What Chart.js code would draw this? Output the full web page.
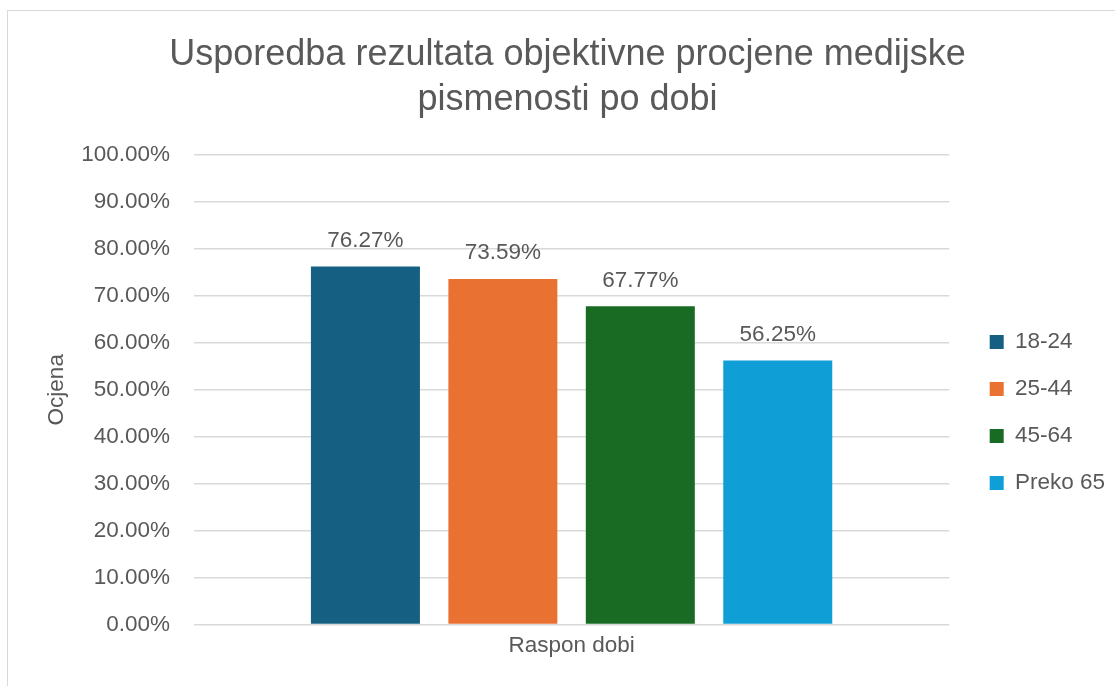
<!DOCTYPE html>
<html>
<head>
<meta charset="utf-8">
<script src="https://cdn.jsdelivr.net/npm/chart.js@4.4.1/dist/chart.umd.min.js"></script>
<style>
  html, body { margin: 0; padding: 0; background: #fff; overflow: hidden; }
  #frame { position: absolute; left: 7px; top: 10px; width: 1120px; height: 690px; border: 1px solid #d9d9d9; }
  #wrap { position: absolute; left: 0; top: 0; width: 1115px; height: 686px; }
</style>
</head>
<body>
<div id="frame"></div>
<div id="wrap"><canvas id="chart" width="1115" height="686"></canvas></div>
<script>
const categories = ["Raspon dobi"];
const ageGroups = ["18-24", "25-44", "45-64", "Preko 65"];
const scores = [76.27, 73.59, 67.77, 56.25];
const barColors = ["#156082", "#E97132", "#196B24", "#0F9ED5"];
const titleLines = ["Usporedba rezultata objektivne procjene medijske", "pismenosti po dobi"];

const textColor = "#595959";
const fontFamily = "'Liberation Sans', Arial, sans-serif";
const labelSize = 22.5;

// value labels above each bar
const barValues = {
    id: "barValues",
    afterDatasetsDraw(chart) {
        const { ctx } = chart;
        ctx.save();
        ctx.fillStyle = textColor;
        ctx.font = `${labelSize}px ${fontFamily}`;
        ctx.textAlign = "center";
        ctx.textBaseline = "alphabetic";
        chart.data.datasets.forEach((dataset, i) => {
            chart.getDatasetMeta(i).data.forEach((bar, j) => {
                ctx.fillText(dataset.data[j].toFixed(2) + "%", bar.x, bar.y - 19.5);
            });
        });
        ctx.restore();
    }
};

new Chart(document.getElementById("chart"), {
    type: "bar",
    data: {
        labels: categories,
        datasets: ageGroups.map((name, i) => ({
            label: name,
            data: [scores[i]],
            backgroundColor: barColors[i],
            borderWidth: 0,
            categoryPercentage: 0.728,
            barPercentage: 0.793
        }))
    },
    options: {
        responsive: false,
        animation: false,
        layout: { padding: { left: 20, right: 0, top: 0, bottom: 19.5 } },
        plugins: {
            title: {
                display: true,
                text: titleLines,
                color: textColor,
                font: { family: fontFamily, size: 36, weight: "normal", lineHeight: 1.25 },
                padding: { top: 32.5, bottom: 32.5 }
            },
            legend: {
                position: "right",
                align: "start",
                maxWidth: 150,
                title: { display: true, text: " ", font: { size: 10 }, padding: 147.125 },
                labels: {
                    color: textColor,
                    font: { family: fontFamily, size: labelSize },
                    boxWidth: 14,
                    boxHeight: 14,
                    padding: 24.5
                }
            },
            tooltip: { enabled: false }
        },
        scales: {
            x: {
                grid: { display: false, drawTicks: false },
                border: { display: false },
                ticks: { color: textColor, font: { family: fontFamily, size: labelSize }, padding: 7.5 }
            },
            y: {
                min: 0,
                max: 100,
                ticks: {
                    stepSize: 10,
                    color: textColor,
                    font: { family: fontFamily, size: labelSize },
                    padding: 24,
                    callback: v => v.toFixed(2) + "%"
                },
                grid: { color: "#d9d9d9", lineWidth: 1.5, drawTicks: false },
                border: { display: false },
                title: {
                    display: true,
                    text: "Ocjena",
                    color: textColor,
                    font: { family: fontFamily, size: labelSize },
                    padding: { top: 23.5, bottom: 4 }
                },
                afterFit: scale => { scale.width = 174; }
            },
            // empty gap between the plot and the legend
            gap: {
                type: "linear",
                position: "right",
                grid: { display: false },
                border: { display: false },
                ticks: { display: false },
                afterFit: scale => { scale.width = 16; }
            }
        }
    },
    plugins: [barValues]
});
</script>
</body>
</html>
